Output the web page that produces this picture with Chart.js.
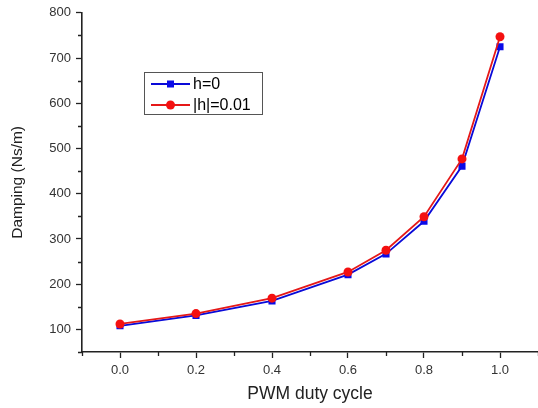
<!DOCTYPE html>
<html>
<head>
<meta charset="utf-8">
<script src="https://cdn.jsdelivr.net/npm/chart.js@4"></script>
<style>
  html, body { margin: 0; padding: 0; background: #fff; }
  #wrap { width: 538px; height: 408px; }
</style>
</head>
<body>
<div id="wrap"><canvas id="myChart" width="538" height="408"></canvas></div>
<script>
// dados
const dutyCycle = [0.0, 0.2, 0.4, 0.6, 0.7, 0.8, 0.9, 1.0];
const dampingH0 = [108, 131, 163, 221, 267, 339, 461, 725];
const dampingH001 = [112, 135, 169, 227, 275, 349, 477, 747];
const seriesLabels = ["h=0", "|h|=0.01"];

const xTicks = [0.0, 0.2, 0.4, 0.6, 0.8, 1.0];
const xMinorTicks = [-0.1, 0.1, 0.3, 0.5, 0.7, 0.9, 1.1];
const yTicks = [100, 200, 300, 400, 500, 600, 700, 800];
const yMinorTicks = [50, 150, 250, 350, 450, 550, 650, 750];

const axisColor = "#222";
const fontFamily = "Arial, 'Liberation Sans', sans-serif";

function toPoints(xs, ys) {
  return xs.map((x, i) => ({ x: x, y: ys[i] }));
}

// minor ticks + legenda dentro do grafico
const extras = {
  id: "extras",
  afterDraw(chart) {
    const ctx = chart.ctx;
    const xs = chart.scales.x, ys = chart.scales.y;
    ctx.save();
    ctx.strokeStyle = axisColor;
    ctx.lineWidth = 1.3;
    ctx.beginPath();
    xMinorTicks.forEach((v) => {
      const px = Math.round(xs.getPixelForValue(v)) + 0.5;
      ctx.moveTo(px, xs.top);
      ctx.lineTo(px, xs.top + 4);
    });
    yMinorTicks.forEach((v) => {
      const py = Math.round(ys.getPixelForValue(v)) + 0.5;
      ctx.moveTo(ys.right, py);
      ctx.lineTo(ys.right - 4, py);
    });
    ctx.stroke();

    // caixa da legenda
    ctx.strokeStyle = "#555";
    ctx.lineWidth = 1;
    ctx.strokeRect(144.5, 72.5, 118, 42);
    ctx.font = "16px " + fontFamily;
    ctx.textBaseline = "middle";
    ctx.fillStyle = "#000";
    const rows = [84, 105];
    chart.data.datasets.forEach((ds, i) => {
      const y = rows[i];
      ctx.strokeStyle = ds.borderColor;
      ctx.lineWidth = ds.borderWidth;
      ctx.beginPath();
      ctx.moveTo(151, y);
      ctx.lineTo(190, y);
      ctx.stroke();
      ctx.fillStyle = ds.backgroundColor;
      if (ds.pointStyle === "rect") {
        ctx.fillRect(167, y - 3.5, 7, 7);
      } else {
        ctx.beginPath();
        ctx.arc(170.5, y, 4.5, 0, Math.PI * 2);
        ctx.fill();
      }
      ctx.fillStyle = "#000";
      ctx.fillText(ds.label, 193, y + 1);
    });
    ctx.restore();
  },
};

var ctx = document.getElementById("myChart").getContext("2d");
var myChart = new Chart(ctx, {
  type: "line",
  data: {
    datasets: [
      {
        label: seriesLabels[0],
        data: toPoints(dutyCycle, dampingH0),
        borderColor: "#0a0ad8",
        backgroundColor: "#0a0ae8",
        borderWidth: 1.8,
        pointStyle: "rect",
        pointRadius: 5,
        pointBorderWidth: 0,
        order: 2,
      },
      {
        label: seriesLabels[1],
        data: toPoints(dutyCycle, dampingH001),
        borderColor: "#e51818",
        backgroundColor: "#f41010",
        borderWidth: 1.8,
        pointStyle: "circle",
        pointRadius: 4.5,
        pointBorderWidth: 0,
        order: 1,
      },
    ],
  },
  options: {
    responsive: false,
    animation: false,
    devicePixelRatio: 1,
    layout: { autoPadding: false, padding: { top: 10, right: 0, left: 0, bottom: 0 } },
    plugins: { legend: { display: false }, tooltip: { enabled: false } },
    scales: {
      x: {
        type: "linear",
        min: -0.1,
        max: 1.1,
        afterBuildTicks: (scale) => { scale.ticks = xTicks.map((v) => ({ value: v })); },
        afterFit: (scale) => {
          scale.height = 56;
          scale.paddingLeft = 0;
          scale.paddingRight = 0;
        },
        ticks: {
          color: "#333",
          font: { size: 13, family: fontFamily },
          padding: 5,
          maxRotation: 0,
          callback: (v) => Number(v).toFixed(1),
        },
        grid: { drawOnChartArea: false, tickLength: 6, tickColor: axisColor, tickWidth: 1.3 },
        border: { display: true, color: axisColor, width: 1.6 },
        title: {
          display: true,
          text: "PWM duty cycle",
          color: "#222",
          font: { size: 17.5, family: fontFamily },
          padding: { top: 0, bottom: 3 },
        },
      },
      y: {
        type: "linear",
        min: 50,
        max: 800,
        afterBuildTicks: (scale) => { scale.ticks = yTicks.map((v) => ({ value: v })); },
        afterFit: (scale) => { scale.width = 82; },
        ticks: {
          color: "#333",
          font: { size: 13, family: fontFamily },
          padding: 5,
        },
        grid: { drawOnChartArea: false, tickLength: 6, tickColor: axisColor, tickWidth: 1.3 },
        border: { display: true, color: axisColor, width: 1.6 },
        title: {
          display: true,
          text: "Damping (Ns/m)",
          color: "#222",
          font: { size: 15.5, family: fontFamily },
          padding: { top: 8, bottom: 0 },
        },
      },
    },
  },
  plugins: [extras],
});
</script>
</body>
</html>
